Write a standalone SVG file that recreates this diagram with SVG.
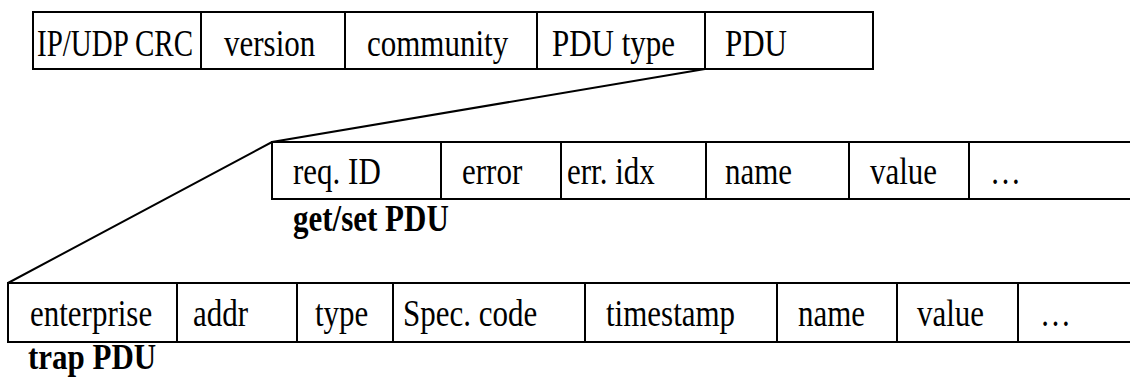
<svg xmlns="http://www.w3.org/2000/svg" width="1130" height="378" viewBox="0 0 1130 378">
<style>
.box{fill:#fff;stroke:#000;stroke-width:2}
.ln{fill:none;stroke:#000;stroke-width:2}
.t{font-family:"Liberation Serif","Times New Roman",serif;font-size:31px;fill:#000}
.b{font-family:"Liberation Serif","Times New Roman",serif;font-size:31px;font-weight:bold;fill:#000}
</style>
<rect width="1130" height="378" fill="#fff"/>
<g id="connectors">
<path class="ln" d="M705,69 L272,142 L8,283"/>
</g>
<g id="snmp-message">
<rect class="box" x="33" y="12" width="840" height="57"/>
<path class="ln" d="M201,12V69M345,12V69M537,12V69M705,12V69"/>
<g transform="translate(0,56) scale(1,1.2)">
<text class="t" x="37" y="0" textLength="156" lengthAdjust="spacingAndGlyphs">IP/UDP CRC</text>
<text class="t" x="224" y="0">version</text>
<text class="t" x="367" y="0">community</text>
<text class="t" x="552" y="0">PDU type</text>
<text class="t" x="725" y="0">PDU</text>
</g>
</g>
<g id="getset-pdu">
<path class="ln" d="M1130,142H272V199H1130"/>
<path class="ln" d="M441,142V199M561,142V199M706,142V199M849,142V199M969,142V199"/>
<g transform="translate(0,184) scale(1,1.2)">
<text class="t" x="293" y="0">req. ID</text>
<text class="t" x="462" y="0">error</text>
<text class="t" x="567" y="0">err. idx</text>
<text class="t" x="725" y="0">name</text>
<text class="t" x="870" y="0">value</text>
<text class="t" x="990" y="0">…</text>
</g>
<g transform="translate(0,231) scale(1,1.2)">
<text class="b" x="293" y="0">get/set PDU</text>
</g>
</g>
<g id="trap-pdu">
<path class="ln" d="M1130,283H8V342H1130"/>
<path class="ln" d="M177,283V342M297,283V342M393,283V342M585,283V342M777,283V342M897,283V342M1018,283V342"/>
<g transform="translate(0,326) scale(1,1.2)">
<text class="t" x="30" y="0">enterprise</text>
<text class="t" x="193" y="0">addr</text>
<text class="t" x="315" y="0">type</text>
<text class="t" x="403" y="0">Spec. code</text>
<text class="t" x="606" y="0">timestamp</text>
<text class="t" x="798" y="0">name</text>
<text class="t" x="917" y="0">value</text>
<text class="t" x="1040" y="0">…</text>
</g>
<g transform="translate(0,369) scale(1,1.15)">
<text class="b" x="28" y="0">trap PDU</text>
</g>
</g>
</svg>
